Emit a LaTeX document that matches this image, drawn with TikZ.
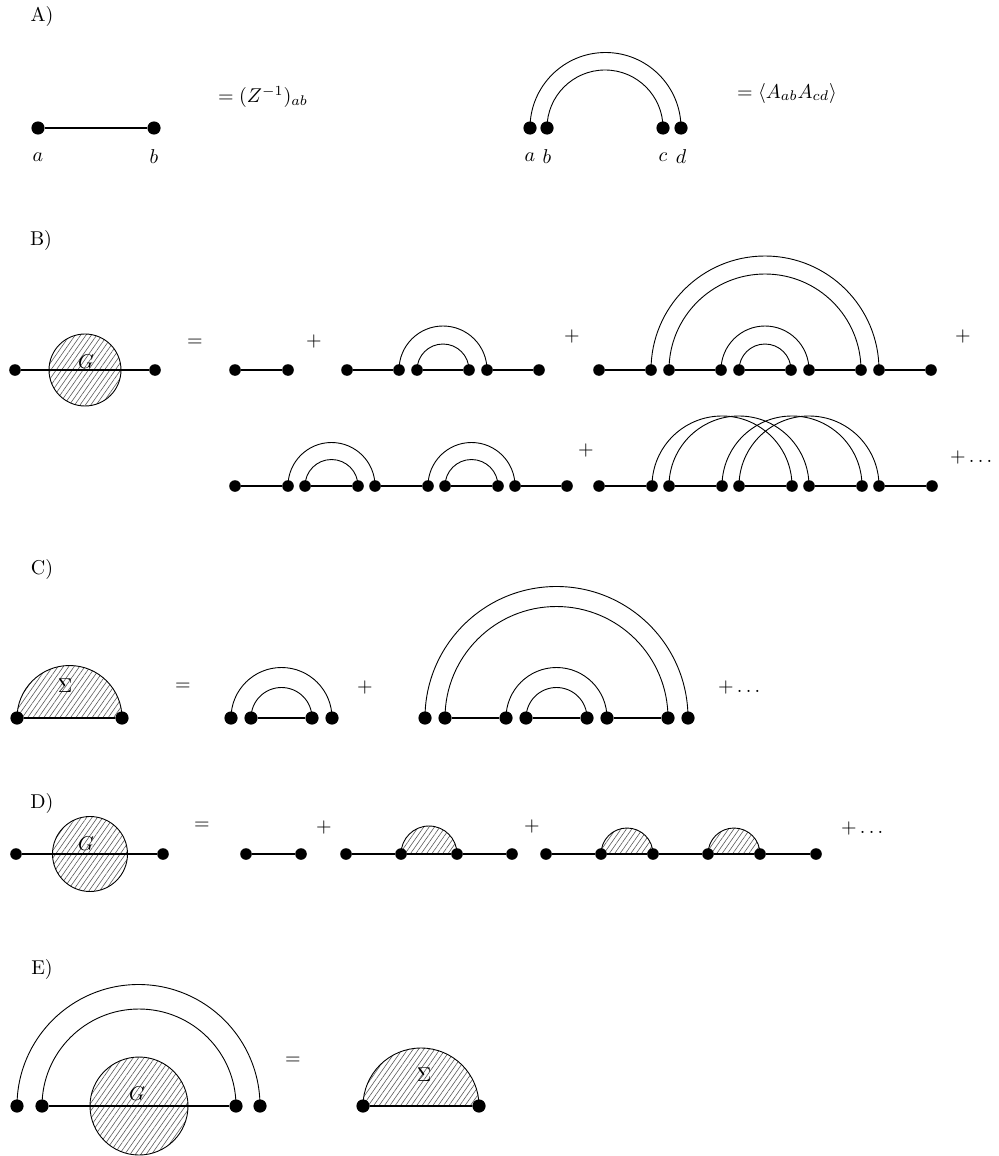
\documentclass[tikz,border=0pt]{standalone}
\usetikzlibrary{patterns.meta,backgrounds}

\begin{document}
\begin{tikzpicture}[x=0.5pt,y=-0.5pt,
    dot/.style={circle, fill=black, inner sep=0pt, minimum size=5.8pt},
    bigdot/.style={circle, fill=black, inner sep=0pt, minimum size=6.6pt},
    prop/.style={line width=0.85pt},
    dbl/.style={line width=0.45pt},
    hatch/.style={draw, line width=0.45pt, pattern={Lines[angle=55,distance=2.2pt,line width=0.3pt]}, pattern color=black!65},
    blob/.style={hatch, circle, inner sep=0pt}]
\useasboundingbox (0,0) rectangle (999,1156);

% A)
\node (lA) at (42,17) {A)};
\node[bigdot] (a1) at (38,128) {};
\node[bigdot] (a2) at (154,128) {};
\node (ta1) at (38,157) {$a$};
\node (ta2) at (154,157) {$b$};
\node[anchor=base west] (eqA1) at (211,103) {$=(Z^{-1})_{ab}$};
\draw[prop] (a1) -- (a2);

\node[bigdot] (a3) at (530,128) {};
\node[bigdot] (a4) at (547,128) {};
\node[bigdot] (a5) at (663,128) {};
\node[bigdot] (a6) at (681,128) {};
\node (ta3) at (530,157) {$a$};
\node (ta4) at (547,157) {$b$};
\node (ta5) at (663,157) {$c$};
\node (ta6) at (681,157) {$d$};
\node[anchor=base west] (eqA2) at (730,98) {$=\langle A_{ab}A_{cd}\rangle$};
\draw[dbl] (a3.center) arc[start angle=180,end angle=0,radius=37.75pt] -- (a6.center);
\draw[dbl] (a4.center) arc[start angle=180,end angle=0,radius=29pt] -- (a5.center);

% B)
\node (lB) at (41,240) {B)};
\node[dot] (b1) at (15,370) {};
\node[dot] (b2) at (155,370) {};
\begin{scope}[on background layer]
\node[blob, minimum size=36pt] (gB) at (85,370) {};
\end{scope}
\node (tgB) at (86,362) {$G$};
\draw[prop] (b1) -- (b2);
\node (eqB) at (195,343) {$=$};

\node[dot] (b3) at (235,370) {};
\node[dot] (b4) at (288,370) {};
\draw[prop] (b3) -- (b4);
\node (plB1) at (314,341) {$+$};

\node[dot] (b5) at (347,370) {};
\node[dot] (b6) at (399,370) {};
\node[dot] (b7) at (417,370) {};
\node[dot] (b8) at (469,370) {};
\node[dot] (b9) at (487,370) {};
\node[dot] (b10) at (539,370) {};
\draw[prop] (b5) -- (b6);
\draw[prop] (b7) -- (b8);
\draw[prop] (b9) -- (b10);
\draw[dbl] (b6.center) arc[start angle=180,end angle=0,radius=22pt] -- (b9.center);
\draw[dbl] (b7.center) arc[start angle=180,end angle=0,radius=13pt] -- (b8.center);
\node (plB2) at (572,336) {$+$};

\node[dot] (b11) at (599,370) {};
\node[dot] (b12) at (651,370) {};
\node[dot] (b13) at (669,370) {};
\node[dot] (b14) at (721,370) {};
\node[dot] (b15) at (739,370) {};
\node[dot] (b16) at (791,370) {};
\node[dot] (b17) at (809,370) {};
\node[dot] (b18) at (861,370) {};
\node[dot] (b19) at (879,370) {};
\node[dot] (b20) at (931,370) {};
\draw[prop] (b11) -- (b12);
\draw[prop] (b13) -- (b14);
\draw[prop] (b15) -- (b16);
\draw[prop] (b17) -- (b18);
\draw[prop] (b19) -- (b20);
\draw[dbl] (b12.center) arc[start angle=180,end angle=0,radius=57pt] -- (b19.center);
\draw[dbl] (b13.center) arc[start angle=180,end angle=0,radius=48pt] -- (b18.center);
\draw[dbl] (b14.center) arc[start angle=180,end angle=0,radius=22pt] -- (b17.center);
\draw[dbl] (b15.center) arc[start angle=180,end angle=0,radius=13pt] -- (b16.center);
\node (plB3) at (963,336) {$+$};

\node[dot] (b21) at (235,486) {};
\node[dot] (b22) at (288,486) {};
\node[dot] (b23) at (305,486) {};
\node[dot] (b24) at (358,486) {};
\node[dot] (b25) at (375,486) {};
\node[dot] (b26) at (428,486) {};
\node[dot] (b27) at (445,486) {};
\node[dot] (b28) at (498,486) {};
\node[dot] (b29) at (515,486) {};
\node[dot] (b30) at (567,486) {};
\draw[prop] (b21) -- (b22);
\draw[prop] (b23) -- (b24);
\draw[prop] (b25) -- (b26);
\draw[prop] (b27) -- (b28);
\draw[prop] (b29) -- (b30);
\draw[dbl] (b22.center) arc[start angle=180,end angle=0,radius=21.75pt] -- (b25.center);
\draw[dbl] (b23.center) arc[start angle=180,end angle=0,radius=13.25pt] -- (b24.center);
\draw[dbl] (b26.center) arc[start angle=180,end angle=0,radius=21.75pt] -- (b29.center);
\draw[dbl] (b27.center) arc[start angle=180,end angle=0,radius=13.25pt] -- (b28.center);
\node (plB4) at (586,450) {$+$};

\node[dot] (b31) at (599,486) {};
\node[dot] (b32) at (652,486) {};
\node[dot] (b33) at (669,486) {};
\node[dot] (b34) at (722,486) {};
\node[dot] (b35) at (739,486) {};
\node[dot] (b36) at (792,486) {};
\node[dot] (b37) at (809,486) {};
\node[dot] (b38) at (862,486) {};
\node[dot] (b39) at (879,486) {};
\node[dot] (b40) at (932,486) {};
\draw[prop] (b31) -- (b32);
\draw[prop] (b33) -- (b34);
\draw[prop] (b35) -- (b36);
\draw[prop] (b37) -- (b38);
\draw[prop] (b39) -- (b40);
\draw[dbl] (b32.center) arc[start angle=180,end angle=0,radius=35pt] -- (b36.center);
\draw[dbl] (b33.center) arc[start angle=180,end angle=0,radius=35pt] -- (b37.center);
\draw[dbl] (b34.center) arc[start angle=180,end angle=0,radius=35pt] -- (b38.center);
\draw[dbl] (b35.center) arc[start angle=180,end angle=0,radius=35pt] -- (b39.center);
\node[anchor=west] (plB5) at (943,457) {$+\ldots$};

% C)
\node (lC) at (42,569) {C)};
\node[bigdot] (c1) at (17,718) {};
\node[bigdot] (c2) at (122,718) {};
\begin{scope}[on background layer]
\draw[hatch] (c1.center) arc[start angle=180,end angle=0,radius=26.25pt] -- (c2.center) -- cycle;
\end{scope}
\draw[prop] (c1) -- (c2);
\node (tsC) at (65,686) {$\Sigma$};
\node (eqC) at (183,687) {$=$};

\node[bigdot] (c3) at (231,718) {};
\node[bigdot] (c4) at (251,718) {};
\node[bigdot] (c5) at (312,718) {};
\node[bigdot] (c6) at (332,718) {};
\draw[prop] (c4) -- (c5);
\draw[dbl] (c3.center) arc[start angle=180,end angle=0,radius=25.25pt] -- (c6.center);
\draw[dbl] (c4.center) arc[start angle=180,end angle=0,radius=15.25pt] -- (c5.center);
\node (plC1) at (365,687) {$+$};

\node[bigdot] (c7) at (425,718) {};
\node[bigdot] (c8) at (445,718) {};
\node[bigdot] (c9) at (506,718) {};
\node[bigdot] (c10) at (526,718) {};
\node[bigdot] (c11) at (587,718) {};
\node[bigdot] (c12) at (607,718) {};
\node[bigdot] (c13) at (668,718) {};
\node[bigdot] (c14) at (688,718) {};
\draw[prop] (c8) -- (c9);
\draw[prop] (c10) -- (c11);
\draw[prop] (c12) -- (c13);
\draw[dbl] (c7.center) arc[start angle=180,end angle=0,radius=65.75pt] -- (c14.center);
\draw[dbl] (c8.center) arc[start angle=180,end angle=0,radius=55.75pt] -- (c13.center);
\draw[dbl] (c9.center) arc[start angle=180,end angle=0,radius=25.25pt] -- (c12.center);
\draw[dbl] (c10.center) arc[start angle=180,end angle=0,radius=15.25pt] -- (c11.center);
\node[anchor=west] (plC2) at (711,687) {$+\ldots$};

% D)
\node (lD) at (42,803) {D)};
\node[dot] (d1) at (16,854) {};
\node[dot] (d2) at (163,854) {};
\begin{scope}[on background layer]
\node[blob, minimum size=37.5pt] (gD) at (90,854) {};
\end{scope}
\node (tgD) at (86,844) {$G$};
\draw[prop] (d1) -- (d2);
\node (eqD) at (202,826) {$=$};

\node[dot] (d3) at (246,854) {};
\node[dot] (d4) at (301,854) {};
\draw[prop] (d3) -- (d4);
\node (plD1) at (324,827) {$+$};

\node[dot] (d5) at (346,854) {};
\node[dot] (d6) at (401,854) {};
\node[dot] (d7) at (457,854) {};
\node[dot] (d8) at (512,854) {};
\begin{scope}[on background layer]
\draw[hatch] (d6.center) arc[start angle=180,end angle=0,radius=14pt] -- (d7.center) -- cycle;
\end{scope}
\draw[prop] (d5) -- (d6) -- (d7) -- (d8);
\node (plD2) at (532,826) {$+$};

\node[dot] (d9) at (546,854) {};
\node[dot] (d10) at (601,854) {};
\node[dot] (d11) at (653,854) {};
\node[dot] (d12) at (708,854) {};
\node[dot] (d13) at (760,854) {};
\node[dot] (d14) at (816,854) {};
\begin{scope}[on background layer]
\draw[hatch] (d10.center) arc[start angle=180,end angle=0,radius=13pt] -- (d11.center) -- cycle;
\draw[hatch] (d12.center) arc[start angle=180,end angle=0,radius=13pt] -- (d13.center) -- cycle;
\end{scope}
\draw[prop] (d9) -- (d10) -- (d11) -- (d12) -- (d13) -- (d14);
\node[anchor=west] (plD3) at (834,828) {$+\ldots$};

% E)
\node (lE) at (42,969) {E)};
\node[bigdot] (e1) at (17,1106) {};
\node[bigdot] (e2) at (42,1106) {};
\node[bigdot] (e3) at (236,1106) {};
\node[bigdot] (e4) at (260,1106) {};
\begin{scope}[on background layer]
\node[blob, minimum size=49pt] (gE) at (139,1106) {};
\end{scope}
\node (tgE) at (137,1094) {$G$};
\draw[prop] (e2) -- (e3);
\draw[dbl] (e1.center) arc[start angle=180,end angle=0,radius=60.75pt] -- (e4.center);
\draw[dbl] (e2.center) arc[start angle=180,end angle=0,radius=48.5pt] -- (e3.center);
\node (eqE) at (293,1061) {$=$};

\node[bigdot] (e5) at (363,1106) {};
\node[bigdot] (e6) at (479,1106) {};
\begin{scope}[on background layer]
\draw[hatch] (e5.center) arc[start angle=180,end angle=0,radius=29pt] -- (e6.center) -- cycle;
\end{scope}
\draw[prop] (e5) -- (e6);
\node (tsE) at (424,1075) {$\Sigma$};
\end{tikzpicture}
\end{document}
